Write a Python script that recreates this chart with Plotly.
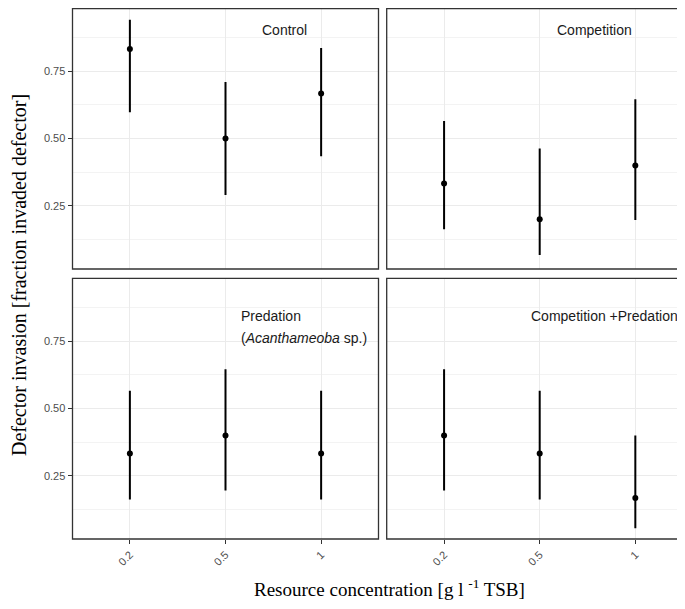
import plotly.graph_objects as go

# ---------------- data ----------------
concentrations = ["0.2", "0.5", "1"]
panel_labels = ["Control", "Competition", "Predation", "Competition +Predation"]

control_mean = [0.833, 0.500, 0.667]
control_low = [0.598, 0.290, 0.434]
control_high = [0.942, 0.710, 0.837]

competition_mean = [0.333, 0.200, 0.400]
competition_low = [0.163, 0.067, 0.197]
competition_high = [0.565, 0.463, 0.646]

predation_mean = [0.333, 0.400, 0.333]
predation_low = [0.162, 0.195, 0.162]
predation_high = [0.566, 0.646, 0.566]

comppred_mean = [0.400, 0.333, 0.167]
comppred_low = [0.195, 0.162, 0.055]
comppred_high = [0.646, 0.566, 0.400]

y_tick_vals = [0.25, 0.50, 0.75]
y_tick_text = ["0.25", "0.50", "0.75"]

x_title = "Resource concentration [g l <sup>-1</sup> TSB]"
y_title = "Defector invasion [fraction invaded defector]"

# ---------------- layout geometry (page pixels of the reference) ----------------
OFF = 8  # default page body margin
W, H = 685 - OFF, 609 - 2 * OFF   # fill the window without causing scrollbars
LEFT_X0, LEFT_X1 = 72.5, 378.5
RIGHT_X0 = 386.7
TOP_Y0, TOP_Y1 = 8.7, 269.0
BOT_Y0, BOT_Y1 = 278.3, 539.0
UNIT = (LEFT_X1 - LEFT_X0) / 3.2
RIGHT_X1 = RIGHT_X0 + (LEFT_X1 - LEFT_X0)
Y_MIN = 0.015
PX_PER_Y = 269.0
Y_RANGE_TOP = [Y_MIN, Y_MIN + (TOP_Y1 - TOP_Y0) / PX_PER_Y]
Y_RANGE_BOT = [Y_MIN, Y_MIN + (BOT_Y1 - BOT_Y0) / PX_PER_Y]

def fx(p):
    return (p - OFF) / W

def fy(p):
    return 1 - (p - OFF) / H

series = [
    (control_mean, control_low, control_high),
    (competition_mean, competition_low, competition_high),
    (predation_mean, predation_low, predation_high),
    (comppred_mean, comppred_low, comppred_high),
]

fig = go.Figure()
for i, (m, lo, hi) in enumerate(series):
    suffix = "" if i == 0 else str(i + 1)
    fig.add_trace(go.Scatter(
        x=concentrations, y=m,
        mode="markers",
        marker=dict(color="black", size=6),
        error_y=dict(type="data", symmetric=False,
                     array=[h - v for h, v in zip(hi, m)],
                     arrayminus=[v - l for v, l in zip(m, lo)],
                     width=0, thickness=2, color="black"),
        xaxis="x" + suffix, yaxis="y" + suffix,
        showlegend=False, hoverinfo="skip",
    ))

tickfont = dict(family="Liberation Sans, Arial, sans-serif", size=11, color="#4D4D4D")
grid_major = "#EBEBEB"
grid_minor = "#F3F3F3"

def xaxis(domain, rng, show_labels):
    return dict(
        domain=domain, range=rng, type="category",
        categoryorder="array", categoryarray=concentrations,
        showgrid=True, gridcolor=grid_major, gridwidth=1.4,
        zeroline=False, showline=False,
        ticks="outside" if show_labels else "",
        ticklen=4, tickwidth=1.1, tickcolor="#333333",
        showticklabels=show_labels, tickangle=-45, tickfont=tickfont,
    )

def yaxis(domain, rng, anchor, show_labels):
    return dict(
        domain=domain, range=rng, anchor=anchor,
        tickmode="array", tickvals=y_tick_vals, ticktext=y_tick_text,
        showgrid=True, gridcolor=grid_major, gridwidth=1.4,
        minor=dict(tickmode="array", tickvals=[0.125, 0.375, 0.625, 0.875],
                   showgrid=True, gridcolor=grid_minor, gridwidth=1, ticks=""),
        zeroline=False, showline=False,
        ticks="outside" if show_labels else "",
        ticklen=4, tickwidth=1.1, tickcolor="#333333",
        showticklabels=show_labels, tickfont=tickfont,
    )

left_dom = [fx(LEFT_X0), fx(LEFT_X1)]
right_dom = [fx(RIGHT_X0), 1.0]
left_rng = [-0.6, 2.6]
right_rng = [-0.6, -0.6 + (W + OFF - RIGHT_X0) / UNIT]
top_dom = [fy(TOP_Y1), min(1.0, fy(TOP_Y0))]
bot_dom = [fy(BOT_Y1), fy(BOT_Y0)]

fig.update_layout(
    width=W, height=H,
    margin=dict(l=0, r=0, t=0, b=0),
    paper_bgcolor="white", plot_bgcolor="white",
    xaxis=dict(xaxis(left_dom, left_rng, False), anchor="y"),
    yaxis=yaxis(top_dom, Y_RANGE_TOP, "x", True),
    xaxis2=dict(xaxis(right_dom, right_rng, False), anchor="y2"),
    yaxis2=yaxis(top_dom, Y_RANGE_TOP, "x2", False),
    xaxis3=dict(xaxis(left_dom, left_rng, True), anchor="y3"),
    yaxis3=yaxis(bot_dom, Y_RANGE_BOT, "x3", True),
    xaxis4=dict(xaxis(right_dom, right_rng, True), anchor="y4"),
    yaxis4=yaxis(bot_dom, Y_RANGE_BOT, "x4", False),
)

# panel borders
shapes = []
for (x0, x1) in [(LEFT_X0, LEFT_X1), (RIGHT_X0, RIGHT_X1)]:
    for (y0, y1) in [(TOP_Y0, TOP_Y1), (BOT_Y0, BOT_Y1)]:
        shapes.append(dict(type="rect", xref="paper", yref="paper",
                           x0=fx(x0), x1=fx(x1), y0=fy(y1), y1=fy(y0),
                           line=dict(color="#333333", width=1.3),
                           fillcolor="rgba(0,0,0,0)", layer="above"))
fig.update_layout(shapes=shapes)

lab_font = dict(family="Liberation Sans, Arial, sans-serif", size=14, color="#1a1a1a")
title_font = dict(family="Liberation Serif, Times New Roman, serif", size=20, color="black")
annotations = [
    dict(xref="x", yref="y", x=1.614, y=0.902, text=panel_labels[0],
         showarrow=False, font=lab_font, xanchor="center", yanchor="middle"),
    dict(xref="x2", yref="y2", x=1.573, y=0.902, text=panel_labels[1],
         showarrow=False, font=lab_font, xanchor="center", yanchor="middle"),
    dict(xref="x3", yref="y3", x=1.144, y=0.843, text=panel_labels[2],
         showarrow=False, font=lab_font, xanchor="left", yanchor="middle"),
    dict(xref="x3", yref="y3", x=1.144, y=0.763, text="(<i>Acanthameoba</i> sp.)",
         showarrow=False, font=lab_font, xanchor="left", yanchor="middle"),
    dict(xref="x4", yref="y4", x=0.885, y=0.843, text=panel_labels[3],
         showarrow=False, font=lab_font, xanchor="left", yanchor="middle"),
    dict(xref="paper", yref="paper", x=fx(389.5), y=0.0, text=x_title,
         showarrow=False, xanchor="center", yanchor="bottom", borderpad=0,
         font=dict(title_font, size=19)),
    dict(xref="paper", yref="paper", x=fx(19), y=fy(275), text=y_title, textangle=-90,
         showarrow=False, xanchor="center", yanchor="middle", font=title_font),
]
fig.update_layout(annotations=annotations)

fig.write_html("out.html")
